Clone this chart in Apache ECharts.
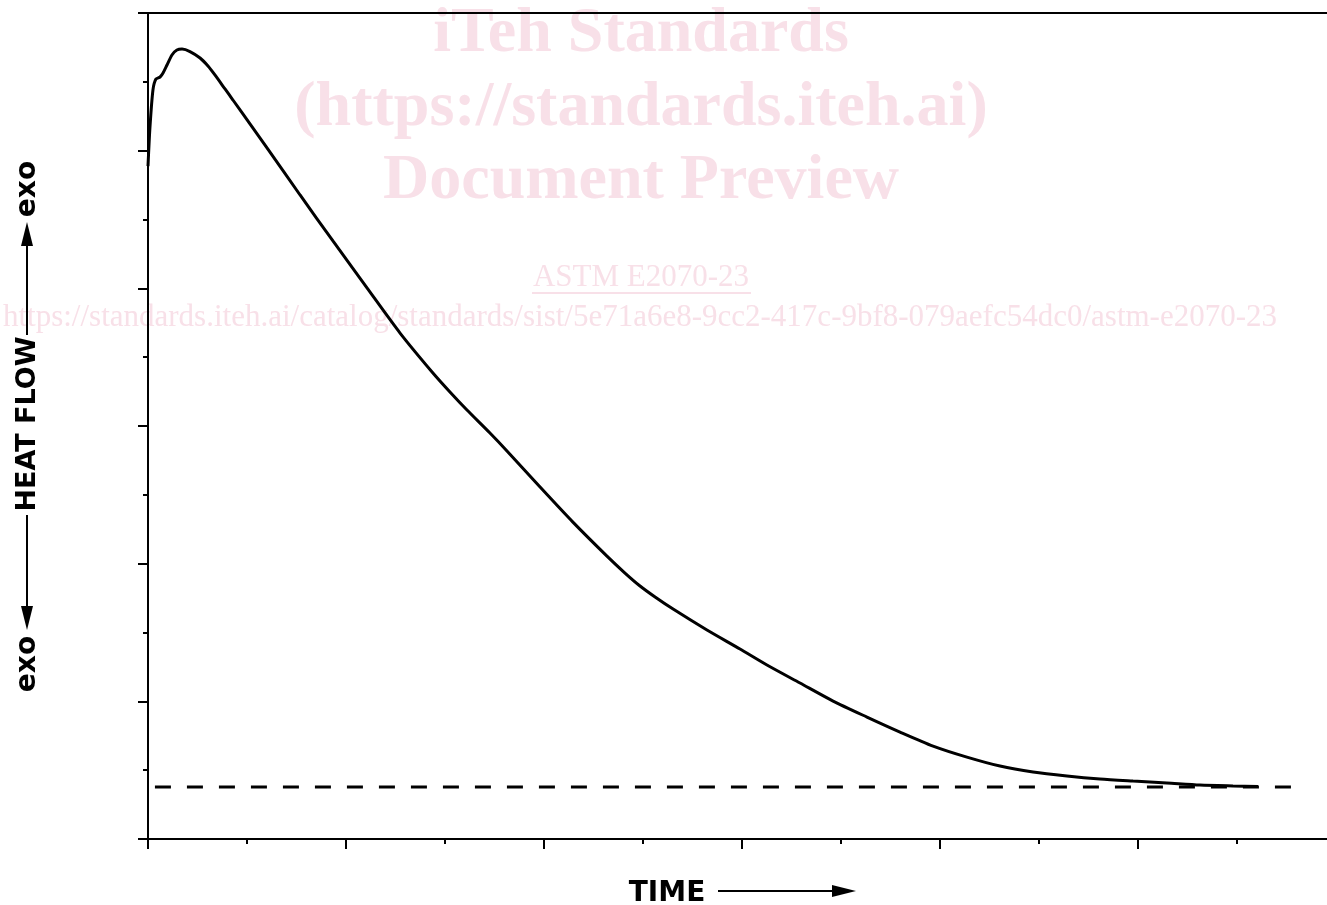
<!DOCTYPE html>
<html>
<head>
<meta charset="utf-8">
<script src="https://cdn.jsdelivr.net/npm/echarts@6/dist/echarts.min.js"></script>
<style>html,body{margin:0;padding:0;background:#fff;overflow:hidden;width:1327px;height:905px}#c{width:1340px;height:905px}</style>
</head>
<body>
<div id="c"></div>
<script>
// Time values (arbitrary units) and heat-flow values
const timeValues = [0, 0.010, 0.025, 0.040, 0.061, 0.076, 0.096, 0.121, 0.146, 0.172, 0.212, 0.263, 0.303, 0.338, 0.389, 0.429, 0.515, 0.601, 0.768, 0.934, 1.106, 1.273, 1.439, 1.525, 1.611, 1.727, 1.813, 1.980, 2.146, 2.318, 2.409, 2.485, 2.561, 2.652, 2.823, 2.990, 3.126, 3.293, 3.460, 3.631, 3.798, 3.965, 4.136, 4.303, 4.470, 4.641, 4.808, 4.975, 5.146, 5.313, 5.480, 5.606];
const heatFlow = [4.888, 5.172, 5.441, 5.520, 5.535, 5.564, 5.622, 5.695, 5.731, 5.738, 5.720, 5.673, 5.615, 5.550, 5.448, 5.368, 5.194, 5.020, 4.678, 4.344, 4.003, 3.675, 3.385, 3.247, 3.116, 2.949, 2.819, 2.557, 2.302, 2.055, 1.932, 1.838, 1.758, 1.670, 1.518, 1.380, 1.264, 1.133, 1.002, 0.886, 0.777, 0.675, 0.595, 0.530, 0.487, 0.458, 0.436, 0.421, 0.407, 0.392, 0.385, 0.381];
const baselineTime = [0.035, 5.78];
const baselineValue = [0.378, 0.378];
const xLabel = "TIME";
const yLabel = "HEAT FLOW";
const exoLabel = "exo";
const watermarkLines = ["iTeh Standards", "(https://standards.iteh.ai)", "Document Preview"];
const watermarkCode = "ASTM E2070-23";
const watermarkUrl = "https://standards.iteh.ai/catalog/standards/sist/5e71a6e8-9cc2-417c-9bf8-079aefc54dc0/astm-e2070-23";

const curve = timeValues.map((t, i) => [t, heatFlow[i]]);
const base = baselineTime.map((t, i) => [t, baselineValue[i]]);

const pink = '#f8e0e8';

const chart = echarts.init(document.getElementById('c'), null, {renderer: 'canvas', width: 1340, height: 905});
chart.setOption({
  animation: false,
  backgroundColor: '#fff',
  grid: {left: 148, right: 4, top: 13, bottom: 66, show: true, borderColor: '#000', borderWidth: 2},
  xAxis: {
    type: 'value', min: 0, max: 6, interval: 1,
    axisLine: {show: true, lineStyle: {color: '#000', width: 2}},
    axisTick: {show: true, inside: false, length: 10, lineStyle: {color: '#000', width: 2}},
    minorTick: {show: true, splitNumber: 2, length: 5, lineStyle: {color: '#000', width: 2}},
    axisLabel: {show: false}, splitLine: {show: false}
  },
  yAxis: {
    type: 'value', min: 0, max: 6, interval: 1,
    axisLine: {show: true, lineStyle: {color: '#000', width: 2}},
    axisTick: {show: true, inside: false, length: 10, lineStyle: {color: '#000', width: 2}},
    minorTick: {show: true, splitNumber: 2, length: 5, lineStyle: {color: '#000', width: 2}},
    axisLabel: {show: false}, splitLine: {show: false}
  },
  graphic: [
    {type: 'text', z: -10, x: 641, y: 34, style: {text: watermarkLines[0], font: 'bold 64px "Liberation Serif"', fill: pink, align: 'center', verticalAlign: 'middle'}},
    {type: 'text', z: -10, x: 641, y: 108, style: {text: watermarkLines[1], font: 'bold 64px "Liberation Serif"', fill: pink, align: 'center', verticalAlign: 'middle'}},
    {type: 'text', z: -10, x: 641, y: 181, style: {text: watermarkLines[2], font: 'bold 64px "Liberation Serif"', fill: pink, align: 'center', verticalAlign: 'middle'}},
    {type: 'text', z: -10, x: 641, y: 278, style: {text: watermarkCode, font: '31px "Liberation Serif"', fill: pink, align: 'center', verticalAlign: 'middle'}},
    {type: 'line', z: -10, shape: {x1: 532, y1: 293, x2: 751, y2: 293}, style: {stroke: pink, lineWidth: 2}},
    {type: 'text', z: -10, x: 640, y: 318, style: {text: watermarkUrl, font: '31px "Liberation Serif"', fill: pink, align: 'center', verticalAlign: 'middle'}},
    // x-axis title with arrow
    {type: 'text', x: 667, y: 894, style: {text: xLabel, font: 'bold 28px "DejaVu Sans"', fill: '#000', align: 'center', verticalAlign: 'middle'}},
    {type: 'line', shape: {x1: 718, y1: 891, x2: 836, y2: 891}, style: {stroke: '#000', lineWidth: 2}},
    {type: 'polygon', shape: {points: [[856, 891], [832, 885], [832, 897]]}, style: {fill: '#000'}},
    // y-axis title with arrows
    {type: 'text', x: 28, y: 424, rotation: Math.PI / 2, style: {text: yLabel, font: 'bold 27px "DejaVu Sans"', fill: '#000', align: 'center', verticalAlign: 'middle'}},
    {type: 'text', x: 28, y: 189, rotation: Math.PI / 2, style: {text: exoLabel, font: 'bold 28px "DejaVu Sans"', fill: '#000', align: 'center', verticalAlign: 'middle'}},
    {type: 'text', x: 28, y: 664, rotation: Math.PI / 2, style: {text: exoLabel, font: 'bold 28px "DejaVu Sans"', fill: '#000', align: 'center', verticalAlign: 'middle'}},
    {type: 'line', shape: {x1: 27, y1: 244, x2: 27, y2: 335}, style: {stroke: '#000', lineWidth: 2}},
    {type: 'polygon', shape: {points: [[27, 222], [21, 246], [33, 246]]}, style: {fill: '#000'}},
    {type: 'line', shape: {x1: 27, y1: 515, x2: 27, y2: 606}, style: {stroke: '#000', lineWidth: 2}},
    {type: 'polygon', shape: {points: [[27, 630], [21, 606], [33, 606]]}, style: {fill: '#000'}}
  ],
  series: [
    {type: 'line', data: curve, smooth: 0.25, showSymbol: false, symbol: 'none', lineStyle: {color: '#000', width: 3}, z: 3},
    {type: 'line', data: base, showSymbol: false, symbol: 'none', lineStyle: {color: '#000', width: 3, type: [16, 16]}, z: 3}
  ]
});
</script>
</body>
</html>
